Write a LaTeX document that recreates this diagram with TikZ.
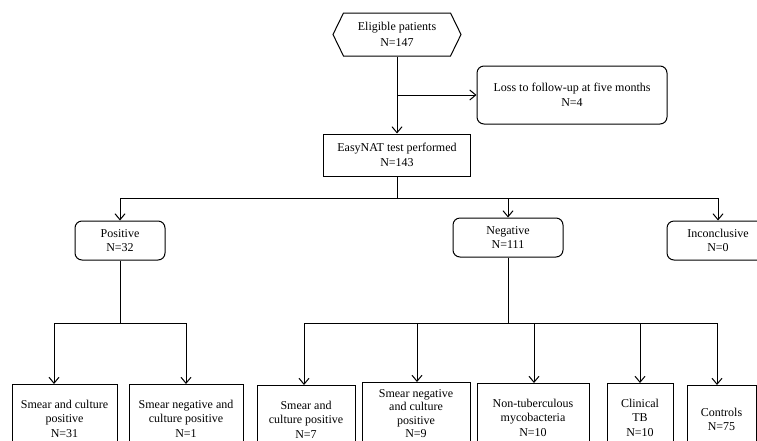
\documentclass[tikz,border=0pt]{standalone}
\usepackage{fontspec}
\setmainfont{Liberation Serif}
\usetikzlibrary{shapes.symbols,arrows.meta}
\tikzset{
    every node/.style={draw, line width=1pt, align=center, inner sep=2pt,
        font=\fontsize{12}{14.5}\selectfont}
}
\tikzset{roundbox/.style={rectangle, rounded corners=7pt}}
\tikzset{squarebox/.style={rectangle}}
\tikzset{leafbox/.style={rectangle, anchor=north, minimum height=68pt}}
\tikzset{flow/.style={-{Straight Barb[length=6pt,width=10pt]}}}

\begin{document}
\begin{tikzpicture}[x=1pt, y=-1pt, line width=1pt]
    \useasboundingbox (0,0) rectangle (757,440);
    \clip (0,0) rectangle (757,440);

    \node (elig) [signal, signal to=west and east, signal pointer angle=128,
        minimum width=128pt, minimum height=43pt,
        font=\fontsize{12}{16}\selectfont] at (397, 34.5) {Eligible patients\\N=147};
    \node (loss) [roundbox, minimum width=190pt, minimum height=58pt] at (572, 95) {Loss to follow-up at five months\\N=4};
    \node (easy) [squarebox, minimum width=147pt, minimum height=42pt] at (397, 155) {EasyNAT test performed\\N=143};

    \node (pos) [roundbox, minimum width=90pt, minimum height=39pt] at (120, 240.5) {Positive\\N=32};
    \node (neg) [roundbox, minimum width=110pt, minimum height=39pt] at (508, 237.5) {Negative\\N=111};
    \node (inc) [roundbox, minimum width=102pt, minimum height=39pt] at (718, 240.5) {Inconclusive\\N=0};

    \node (pa) [leafbox, minimum width=105pt] at (64.5, 384) {Smear and culture\\positive\\N=31};
    \node (pb) [leafbox, minimum width=114pt] at (186, 384) {Smear negative and\\culture positive\\N=1};
    \node (na) [leafbox, minimum width=98pt] at (306, 385) {Smear and\\culture positive\\N=7};
    \node (nb) [leafbox, minimum width=108pt, minimum height=62pt,
        font=\fontsize{12}{13.5}\selectfont] at (416, 382) {Smear negative\\and culture\\positive\\N=9};
    \node (nc) [leafbox, minimum width=112pt] at (533, 383) {Non-tuberculous\\mycobacteria\\N=10};
    \node (nd) [leafbox, minimum width=66pt] at (640, 383) {Clinical\\TB\\N=10};
    \node (ne) [leafbox, minimum width=69pt] at (721.5, 385) {Controls\\N=75};

    % junctions
    \coordinate (j1) at (397, 95);
    \coordinate (j2) at (397, 198);
    \coordinate (bl) at (120, 198);
    \coordinate (bm) at (508, 198);
    \coordinate (br) at (718, 198);
    \coordinate (j3) at (120, 323);
    \coordinate (pl) at (54, 323);
    \coordinate (pr) at (186, 323);
    \coordinate (j4) at (508, 323);
    \coordinate (n1) at (304, 323);
    \coordinate (n2) at (417, 323);
    \coordinate (n3) at (534, 323);
    \coordinate (n4) at (640, 323);
    \coordinate (n5) at (717, 323);

    \draw[flow] (elig) -- (easy);
    \draw[flow] (j1) -- (loss);
    \draw (easy) -- (j2);
    \draw (bl) -- (br);
    \draw[flow] (bl) -- (pos);
    \draw[flow] (bm) -- (neg);
    \draw[flow] (br) -- (inc);

    \draw (pos) -- (j3);
    \draw (pl) -- (pr);
    \draw[flow] (pl) -- (pl |- pa.north);
    \draw[flow] (pr) -- (pb);

    \draw (neg) -- (j4);
    \draw (n1) -- (n5);
    \draw[flow] (n1) -- (n1 |- na.north);
    \draw[flow] (n2) -- (n2 |- nb.north);
    \draw[flow] (n3) -- (n3 |- nc.north);
    \draw[flow] (n4) -- (nd);
    \draw[flow] (n5) -- (n5 |- ne.north);
\end{tikzpicture}
\end{document}
